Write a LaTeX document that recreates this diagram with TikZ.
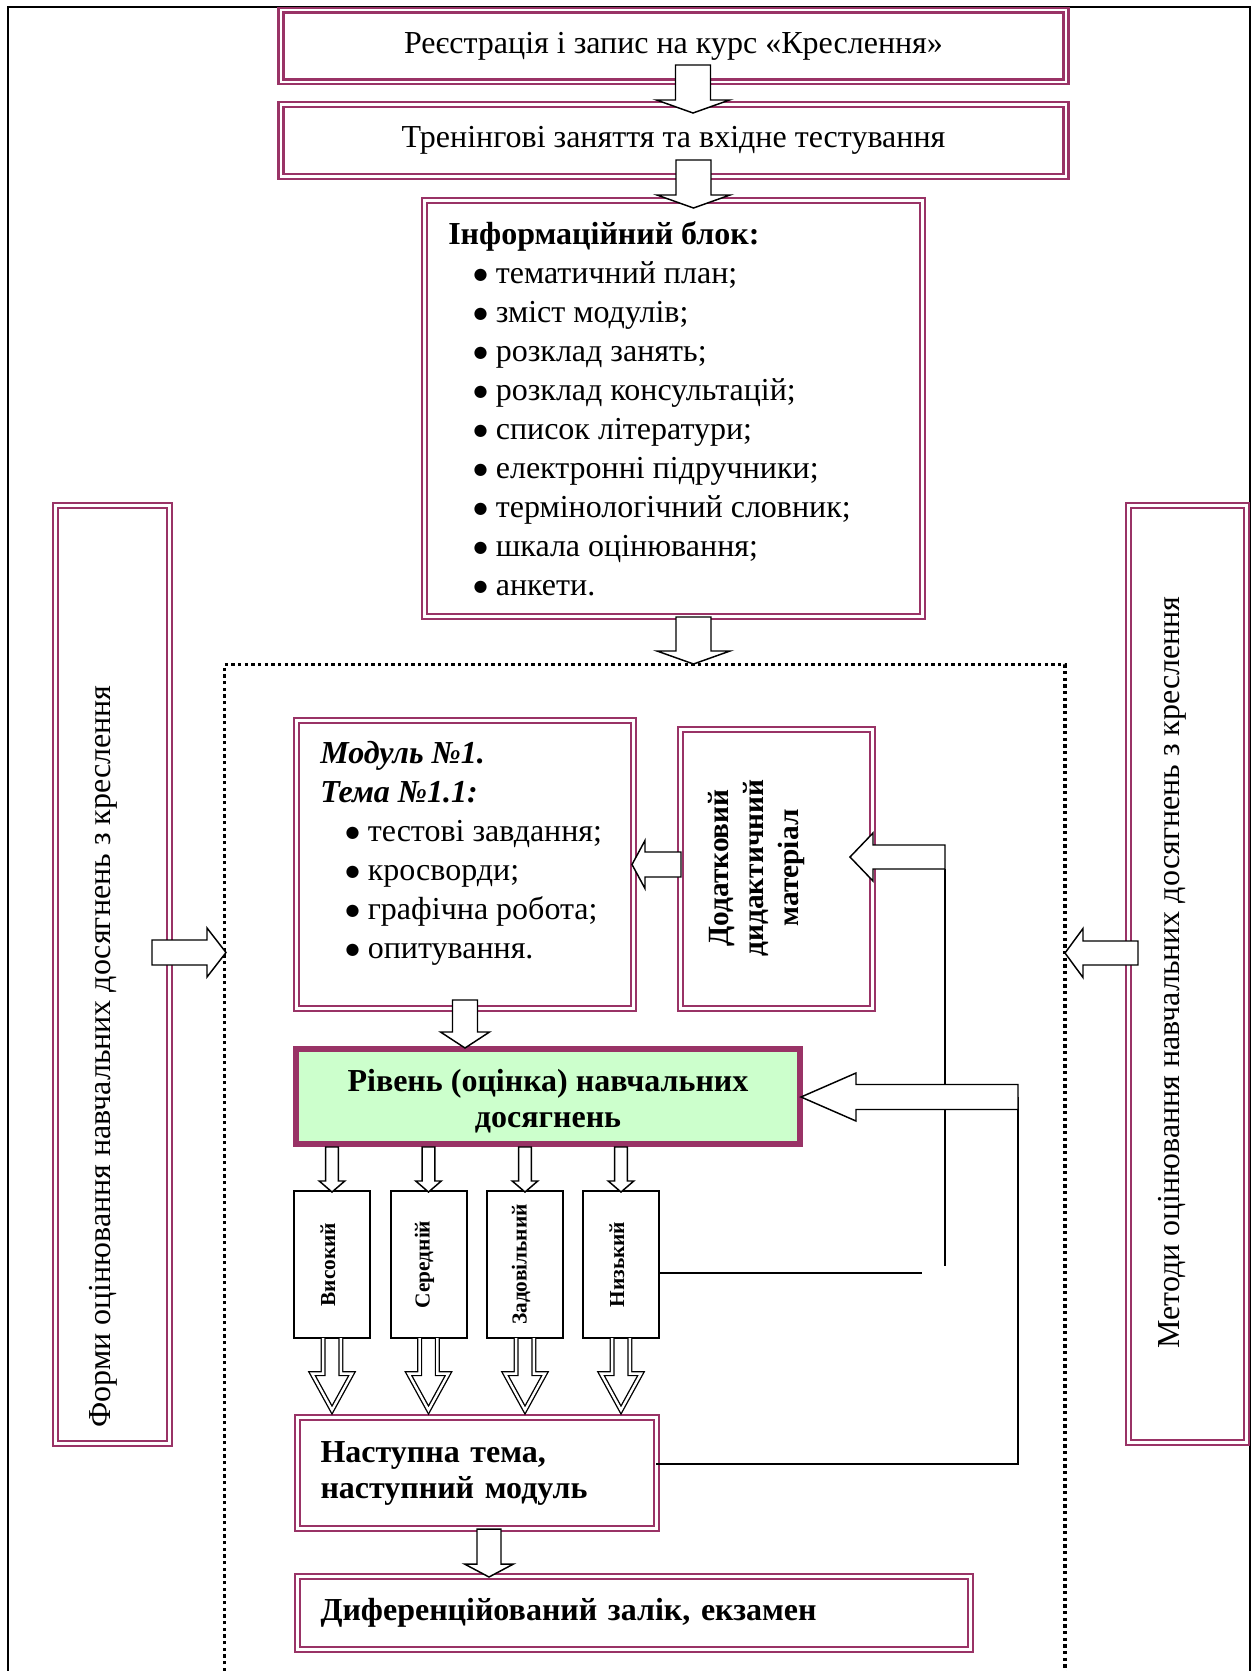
\documentclass[tikz,border=0pt]{standalone}
\usepackage{fontspec}
\setmainfont{Liberation Serif}
\newfontfamily\dejavu{DejaVu Sans}
\usepackage{xcolor}

\definecolor{boxred}{HTML}{993366}
\definecolor{levelgreen}{HTML}{CCFFCC}

\newcommand{\bigfont}{\fontsize{24}{29.25}\selectfont}
\newcommand{\bul}{\hspace*{19pt}\raisebox{2.8pt}{\fontsize{12}{12}\dejavu ●}\hspace{6.2pt}}

% block arrows: [style]{anchor}{shift to tip}{length}{head length}{half shaft}{half head}
\newcommand{\blkdown}[7][hollow]{\draw[#1] (#2) ++(#3) -- ++(#7,-#5) -- ++(#6-#7,0) -- ++(0,#5-#4) -- ++(-2*#6,0) -- ++(0,#4-#5) -- ++(#6-#7,0) -- cycle;}
\newcommand{\blkleft}[7][hollow]{\draw[#1] (#2) ++(#3) -- ++(#5,-#7) -- ++(0,#7-#6) -- ++(#4-#5,0) -- ++(0,2*#6) -- ++(#5-#4,0) -- ++(0,#7-#6) -- cycle;}
\newcommand{\blkright}[7][hollow]{\draw[#1] (#2) ++(#3) -- ++(-#5,-#7) -- ++(0,#7-#6) -- ++(#5-#4,0) -- ++(0,2*#6) -- ++(#4-#5,0) -- ++(0,#7-#6) -- cycle;}
% open double-line arrow: {tail anchor}{half shaft}{length}{head length}{half head}
\newcommand{\dbldown}[5]{\draw[dblarrow] (#1) ++(#2,0) -- ++(0,#3-#4) -- ++(#5-#2,0) -- ++(-#5,#4) -- ++(-#5,-#4) -- ++(#5-#2,0) -- ++(0,#4-#3);}

\tikzset{
  dblbox/.style={draw=boxred, double=white, line width=1.8pt, double distance=1.9pt, fill=white, outer sep=0pt, inner sep=0pt},
  hollow/.style={draw=black, fill=white, line width=1.1pt},
  dblarrow/.style={draw=black, double=white, line width=1pt, double distance=1.8pt},
  lvlbox/.style={draw=black, line width=1.5pt, fill=white, minimum width=57pt, minimum height=110.25pt, outer sep=0pt},
  lvltext/.style={rotate=90, inner sep=0pt, font=\fontsize{16}{19}\selectfont\bfseries},
  dotframe/.style={line width=2.6pt, dash pattern=on 2.6pt off 2.4pt},
  sidetext/.style={rotate=90, inner sep=0pt, font=\bigfont},
  fbline/.style={line width=1.1pt}
}

\begin{document}
\begin{tikzpicture}[x=0.75pt,y=0.75pt,yscale=-1,xscale=1]
    \useasboundingbox (0,0) rectangle (1254,1671);

    %Outer frame
    \draw[line width=1.1pt] (8,1671) -- (8,7) -- (1250,7) -- (1250,1671);
    %Dotted frame
    \draw[dotframe] (224.5,1671) -- (224.5,664.5) -- (1065,664.5) -- (1065,1671);

    %Shape: Rectangles
    \node[dblbox, minimum width=588.75pt, minimum height=53.7pt, font=\bigfont] (reg) at (673.5,46) {Реєстрація і запис на курс «Креслення»};
    \node[dblbox, minimum width=588.75pt, minimum height=53.7pt, font=\bigfont] (trn) at (673.5,140.5) {Тренінгові заняття та вхідне тестування};
    \node[dblbox, minimum width=373.2pt, minimum height=311.7pt] (info) at (673.5,408.5) {};
    \node[dblbox, minimum width=85.2pt, minimum height=703.2pt] (forms) at (112.5,974.5) {};
    \node[dblbox, minimum width=88.2pt, minimum height=702.45pt] (meth) at (1187.5,974) {};
    \node[dblbox, minimum width=252.45pt, minimum height=215.7pt] (mod) at (465,864.5) {};
    \node[dblbox, minimum width=143.7pt, minimum height=208.95pt] (dod) at (776.5,869) {};
    \node[draw=boxred, line width=4.5pt, fill=levelgreen, minimum width=378pt, minimum height=71.25pt, outer sep=0pt] (rivn) at (548,1096.5) {};
    \node[dblbox, minimum width=268.95pt, minimum height=82.95pt, text width=234.75pt, align=left, font=\fontsize{24}{27}\selectfont\bfseries] (nast) at (477,1473) {Наступна тема,\\наступний модуль};
    \node[dblbox, minimum width=504.45pt, minimum height=54.45pt, text width=470.25pt, align=left, font=\bigfont\bfseries] (dyf) at (634,1613) {Диференційований залік, екзамен};

    %Texts
    \node[anchor=north west, inner sep=0pt, align=left, font=\bigfont] (infotxt) at (448,221) {\textbf{Інформаційний блок:}\\
      \bul тематичний план;\\
      \bul зміст модулів;\\
      \bul розклад занять;\\
      \bul розклад консультацій;\\
      \bul список літератури;\\
      \bul електронні підручники;\\
      \bul термінологічний словник;\\
      \bul шкала оцінювання;\\
      \bul анкети.};
    \node[inner sep=0pt, align=center, font=\fontsize{24}{27}\selectfont\bfseries] (rivntxt) at (548,1101) {Рівень (оцінка) навчальних\\досягнень};
    \node[sidetext, anchor=base west] (formstxt) at (110,1428) {Форми оцінювання навчальних досягнень з креслення};
    \node[sidetext, anchor=base] (methtxt) at (1179,972.5) {Методи оцінювання навчальних досягнень з креслення};
    \node[anchor=north west, inner sep=0pt, align=left, font=\bigfont] (modtxt) at (320,741) {\textbf{\textit{Модуль №1.}}\\
      \textbf{\textit{Тема №1.1:}}\\
      \bul тестові завдання;\\
      \bul кросворди;\\
      \bul графічна робота;\\
      \bul опитування.};
    \node[rotate=90, inner sep=0pt, align=center, font=\fontsize{22}{26.25}\selectfont\bfseries] (dodtxt) at (757,868) {Додатковий\\дидактичний\\матеріал};

    %Straight Lines
    \coordinate (fbA) at (922,1273);
    \coordinate (fbB) at (945,1266);
    \coordinate (fbC) at (1018,1464);
    \draw[fbline] (fbB |- dod.east) -- (fbB);
    \draw[fbline] (fbC -| nast.east) -- (fbC) -- (fbC |- rivn.east);

    %Levels
    \foreach \nm/\xx/\txt in {vys/332/Високий, ser/428.5/Середній, zad/525/Задовільний, nyz/621/Низький}{
      \node[lvlbox] (\nm) at (\xx,1264.5) {};
      \node[lvltext] (\nm txt) at ([xshift=-3pt]\nm.center) {\txt};
      \dbldown{\nm.south}{8.9}{72}{36.4}{20}
      \blkdown{\nm.north}{0,1}{45}{11}{6.3}{12.8}
    }
    \draw[fbline] (fbA -| nyz.east) -- (fbA);

    %Block arrows
    \blkdown{trn.north}{19.5,8.3}{48}{13}{17.5}{36.5}
    \blkdown{info.north}{20,7.3}{48}{13}{17.5}{36.5}
    \blkdown{info.south}{20,47.7}{47}{13}{17.5}{36.5}
    \blkright{forms.east}{56.7,-22}{74}{19}{12.5}{24.5}
    \blkleft{meth.west}{-63.7,-21}{73}{18}{12}{24.5}
    \blkleft{mod.east}{-1.3,0}{49}{13}{12.5}{24}
    \blkleft{dod.east}{-22.3,-12}{95}{23}{12}{24}
    \blkleft{rivn.east}{1,0.5}{217}{55}{12.5}{24}
    \blkdown{rivn.north -| mod.south}{0,-1}{48}{16}{12.5}{24.5}
    \blkdown{dyf.north -| nast.south}{12,0.3}{48}{13}{12}{24.5}

\end{tikzpicture}
\end{document}
